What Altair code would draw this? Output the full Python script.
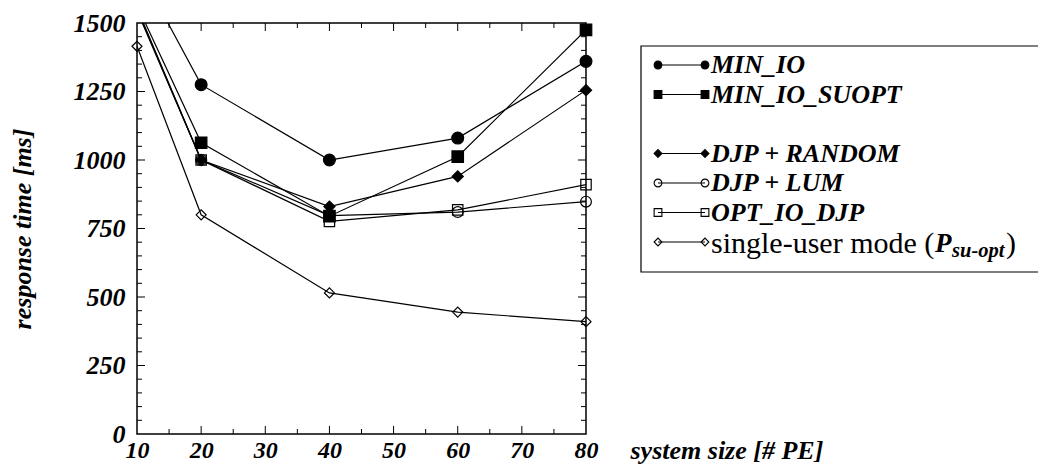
import altair as alt
import pandas as pd

# ---------------- data ----------------
x_values = [10, 20, 40, 60, 80]
series_names = ["MIN_IO", "MIN_IO_SUOPT", "DJP + RANDOM", "DJP + LUM", "OPT_IO_DJP", "single-user mode"]
min_io = [1710, 1275, 1000, 1080, 1360]
min_io_suopt = [1565, 1063, 795, 1012, 1475]
djp_random = [1545, 1000, 830, 940, 1255]
djp_lum = [1555, 1000, 797, 810, 848]
opt_io_djp = [1550, 1000, 776, 818, 910]
single_user = [1415, 800, 515, 445, 410]
all_series = [min_io, min_io_suopt, djp_random, djp_lum, opt_io_djp, single_user]

y_tick_labels = [0, 250, 500, 750, 1000, 1250, 1500]
x_tick_labels = [10, 20, 30, 40, 50, 60, 70, 80]
y_major_ticks = [250, 500, 750, 1000, 1250]
y_minor_ticks = [v for v in range(50, 1500, 50) if v % 250]
x_major_ticks = [20, 30, 40, 50, 60, 70]
x_minor_ticks = [15, 25, 35, 45, 55, 65, 75]

legend_rows = [0, 1, 3, 4, 5, 6]
legend_labels = ["MIN_IO", "MIN_IO_SUOPT", "DJP + RANDOM", "DJP + LUM", "OPT_IO_DJP"]

# ---------------- tables ----------------
rows = []
for name, vals in zip(series_names, all_series):
    for x, v in zip(x_values, vals):
        rows.append({"series": name, "x": x, "value": v})
df = pd.DataFrame(rows)

leg_rows = []
for name, r in zip(series_names, legend_rows):
    for lx in (0, 1):
        leg_rows.append({"series": name, "row": r, "lx": lx})
leg_df = pd.DataFrame(leg_rows)
lab_df = pd.DataFrame({"series": legend_labels, "row": legend_rows[:5], "lx": [1] * 5})
su_df = pd.DataFrame({"series": [series_names[5]], "row": [legend_rows[5]], "lx": [1]})

# ---------------- styles ----------------
W, H = 449, 411
FONT = "Liberation Serif, Times New Roman, Times, serif"
shape_range = ["circle", "square", "diamond", "circle", "square", "diamond"]
fill_range = ["black", "black", "black", "transparent", "transparent", "transparent"]
size_range = [140, 100, 120, 100, 80, 110]

xscale = alt.Scale(domain=[10, 80], nice=False, zero=False)
yscale = alt.Scale(domain=[0, 1500], nice=False, zero=False)

shape_enc = alt.Shape("series:N", scale=alt.Scale(domain=series_names, range=shape_range), legend=None)
fill_enc = alt.Fill("series:N", scale=alt.Scale(domain=series_names, range=fill_range), legend=None)

x_axis = alt.Axis(
    values=x_tick_labels, format="d", ticks=False, tickSize=0, domain=False, grid=False,
    labelFont=FONT, labelFontSize=24, labelFontWeight="bold", labelFontStyle="italic",
    labelColor="black", labelPadding=4, labelFlush=False,
    title="system size [# PE]", titleFont=FONT, titleFontSize=26, titleFontWeight="bold",
    titleFontStyle="italic", titleColor="black", titleX=493, titleY=24,
    titleAlign="left", titleBaseline="alphabetic", titleAngle=0,
)
y_axis = alt.Axis(
    values=y_tick_labels, format="d", ticks=False, tickSize=0, domain=False, grid=False,
    labelFont=FONT, labelFontSize=26, labelFontWeight="bold", labelFontStyle="italic",
    labelColor="black", labelPadding=12, labelFlush=False,
    title="response time [ms]", titleFont=FONT, titleFontSize=26, titleFontWeight="bold",
    titleFontStyle="italic", titleColor="black", titleX=-115, titleY=H / 2,
    titleAlign="center", titleBaseline="middle", titleAngle=270,
)

base = alt.Chart(df)

lines = base.mark_line(color="black", strokeWidth=1.2, clip=True).encode(
    x=alt.X("x:Q", scale=xscale, axis=x_axis),
    y=alt.Y("value:Q", scale=yscale, axis=y_axis),
    detail="series:N",
)

points = base.transform_filter("datum.value <= 1500").mark_point(
    opacity=1, stroke="black", strokeWidth=1.2
).encode(
    x=alt.X("x:Q", scale=xscale),
    y=alt.Y("value:Q", scale=yscale),
    shape=shape_enc,
    fill=fill_enc,
    size=alt.Size("series:N", scale=alt.Scale(domain=series_names, range=size_range), legend=None),
)


def yticks(vals, length):
    d = pd.DataFrame({"v": vals})
    left = alt.Chart(d).mark_rule(color="black", strokeWidth=1).encode(
        y=alt.Y("v:Q", scale=yscale), x=alt.value(0), x2=alt.value(length))
    right = alt.Chart(d).mark_rule(color="black", strokeWidth=1).encode(
        y=alt.Y("v:Q", scale=yscale), x=alt.value(W), x2=alt.value(W - length))
    return [left, right]


def xticks(vals, length):
    d = pd.DataFrame({"v": vals})
    bottom = alt.Chart(d).mark_rule(color="black", strokeWidth=1).encode(
        x=alt.X("v:Q", scale=xscale), y=alt.value(H), y2=alt.value(H - length))
    top = alt.Chart(d).mark_rule(color="black", strokeWidth=1).encode(
        x=alt.X("v:Q", scale=xscale), y=alt.value(0), y2=alt.value(length))
    return [bottom, top]


tick_layers = yticks(y_major_ticks, 8) + yticks(y_minor_ticks, 5) + xticks(x_major_ticks, 8) + xticks(x_minor_ticks, 5)

main = alt.layer(lines, points, *tick_layers)

# ---------------- legend ----------------
lxs = alt.Scale(domain=[0, 1], range=[521, 568])
lys = alt.Scale(domain=[0, 6], range=[42, 219])

leg_box = alt.Chart(pd.DataFrame({"a": [0]})).mark_rect(
    fill=None, stroke="black", strokeWidth=1.2
).encode(x=alt.value(504), x2=alt.value(930), y=alt.value(23), y2=alt.value(249))

leg_line = alt.Chart(leg_df).mark_line(color="black", strokeWidth=1.2).encode(
    x=alt.X("lx:Q", scale=lxs, axis=None),
    y=alt.Y("row:Q", scale=lys, axis=None),
    detail="series:N",
)
leg_pts = alt.Chart(leg_df).mark_point(opacity=1, stroke="black", strokeWidth=1.1, size=60).encode(
    x=alt.X("lx:Q", scale=lxs, axis=None),
    y=alt.Y("row:Q", scale=lys, axis=None),
    shape=shape_enc,
    fill=fill_enc,
)
leg_text = alt.Chart(lab_df).mark_text(
    align="left", baseline="middle", dx=6, font=FONT, fontSize=26,
    fontWeight="bold", fontStyle="italic", color="black"
).encode(
    x=alt.X("lx:Q", scale=lxs, axis=None),
    y=alt.Y("row:Q", scale=lys, axis=None),
    text="series:N",
)


def su_piece(txt, dx, dy, size, bold_italic):
    kw = dict(align="left", baseline="middle", dx=dx, dy=dy, font=FONT, fontSize=size, color="black", text=txt)
    if bold_italic:
        kw.update(fontWeight="bold", fontStyle="italic")
    return alt.Chart(su_df).mark_text(**kw).encode(
        x=alt.X("lx:Q", scale=lxs, axis=None),
        y=alt.Y("row:Q", scale=lys, axis=None),
    )


su_layers = [
    su_piece("single-user mode (", 6, 2, 30, False),
    su_piece("P", 230, 2, 27, True),
    su_piece("su-opt", 247, 9, 20.5, True),
    su_piece(")", 301, 2, 30, False),
]

legend = alt.layer(leg_box, leg_line, leg_pts, leg_text, *su_layers)

chart = alt.layer(main, legend).resolve_scale(x="independent", y="independent").properties(
    width=W, height=H,
    padding={"left": 129, "top": 15, "right": 452, "bottom": 31},
    autosize=alt.AutoSizeParams(type="none"),
    background="white",
).configure_view(stroke="black", strokeWidth=1.5)

chart.save("out.html", embed_options={"renderer": "svg", "actions": False})
